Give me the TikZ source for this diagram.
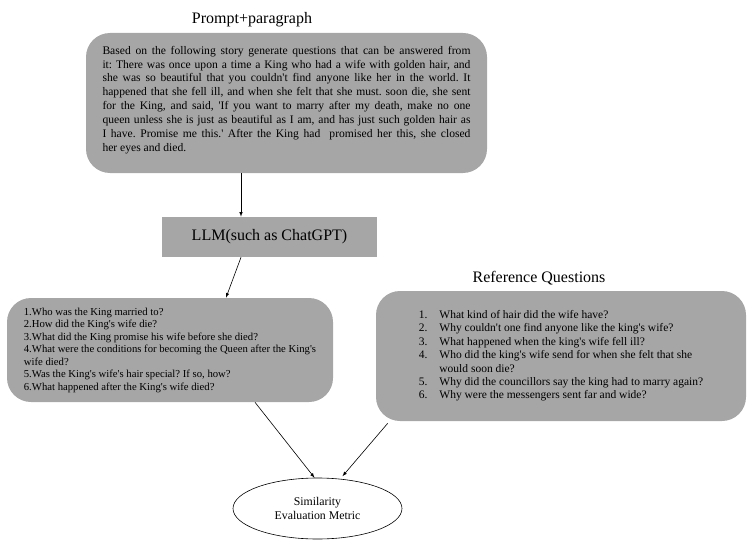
\documentclass[tikz,border=0pt]{standalone}
\usepackage{fontspec}
\setmainfont{Liberation Serif}[Ligatures=TeXOff]
\usetikzlibrary{shapes.geometric,positioning,calc}
\definecolor{boxgray}{RGB}{166,166,166}
\frenchspacing

\begin{document}
\begin{tikzpicture}[>=latex,x=1pt,y=-1pt,semithick]
    \useasboundingbox (0,0) rectangle (749,559);
    \tikzset{
        graybox/.style={fill=boxgray,rounded corners=24pt,inner sep=0pt},
        title/.style={font=\fontsize{16}{19}\selectfont}
    }
    % prompt box
    \node [title] (PromptTitle) at (252,20) {Prompt+paragraph};
    \node [graybox,minimum width=401pt,minimum height=140pt] (Prompt) at (286.5,103) {};
    \node [below=13pt of Prompt.north,text width=368pt,align=justify,inner sep=0pt,
        font=\fontsize{11.6}{13.9}\selectfont] (PromptText)
        {Based on the following story generate questions that can be answered from\linebreak
        it: There was once upon a time a King who had a wife with golden hair, and\linebreak
        she was so beautiful that you couldn't find anyone like her in the world. It\linebreak
        happened that she fell ill, and when she felt that she must. soon die, she sent\linebreak
        for the King, and said, 'If you want to marry after my death, make no one\linebreak
        queen unless she is just as beautiful as I am, and has just such golden hair as\linebreak
        I have. Promise me this.' After the King had\ \ promised her this, she closed\linebreak
        her eyes and died.};
    % llm
    \node [fill=boxgray,minimum width=215pt,minimum height=40pt,inner sep=1pt,
        font=\fontsize{16}{19}\selectfont] (LLM) at (269.5,237) {LLM(such as ChatGPT)};
    % generated questions
    \node [graybox,minimum width=326pt,minimum height=104pt,align=left,
        font=\fontsize{10.7}{12.5}\selectfont] (Generated) at (170,350)
        {1.Who was the King married to?\\
        2.How did the King's wife die?\\
        3.What did the King promise his wife before she died?\\
        4.What were the conditions for becoming the Queen after the King's\\
        wife died?\\
        5.Was the King's wife's hair special? If so, how?\\
        6.What happened after the King's wife died?};
    % reference questions
    \node [title] (RefTitle) at (539,278) {Reference Questions};
    \node [graybox,minimum width=370pt,minimum height=130pt,align=left,
        font=\fontsize{11.5}{13.4}\selectfont] (Reference) at (561,356)
        {\begin{tabular}{@{}l@{\hspace{12pt}}l@{}}
        1. & What kind of hair did the wife have?\\
        2. & Why couldn't one find anyone like the king's wife?\\
        3. & What happened when the king's wife fell ill?\\
        4. & Who did the king's wife send for when she felt that she\\
           & would soon die?\\
        5. & Why did the councillors say the king had to marry again?\\
        6. & Why were the messengers sent far and wide?
        \end{tabular}};
    % metric
    \node [ellipse,draw,fill=white,minimum width=169pt,minimum height=61pt,align=center,inner sep=0pt,
        font=\fontsize{11.8}{14.5}\selectfont] (Metric) at (317.5,508.5) {Similarity\\Evaluation Metric};
    % connectors
    \draw [->] ([xshift=-28.5pt]LLM.north |- Prompt.south) -- ([xshift=-28.5pt]LLM.north);
    \draw [->] ([xshift=-28.5pt]LLM.south) -- ([xshift=56pt]Generated.north);
    \draw [->] ([xshift=85pt]Generated.south) -- ([xshift=-3pt]Metric.north);
    \draw [->] ([xshift=12pt,yshift=-2pt]Reference.south west) -- ([xshift=25pt,yshift=1.5pt]Metric.north);
\end{tikzpicture}
\end{document}
